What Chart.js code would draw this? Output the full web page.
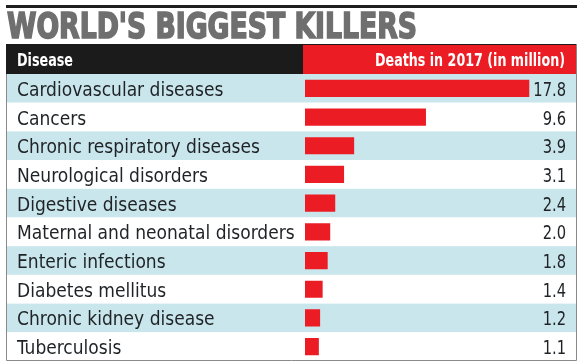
<!DOCTYPE html>
<html>
<head>
<meta charset="utf-8">
<script src="https://cdn.jsdelivr.net/npm/chart.js@4/dist/chart.umd.min.js"></script>
<style>
html,body{margin:0;padding:0;background:#fff;}
#wrap{width:588px;height:362px;}
</style>
</head>
<body>
<div id="wrap"><canvas id="c" width="588" height="362"></canvas></div>
<script>
const title = "WORLD'S BIGGEST KILLERS";
const headerLeft = "Disease";
const headerRight = "Deaths in 2017 (in million)";
const diseases = [
  "Cardiovascular diseases",
  "Cancers",
  "Chronic respiratory diseases",
  "Neurological disorders",
  "Digestive diseases",
  "Maternal and neonatal disorders",
  "Enteric infections",
  "Diabetes mellitus",
  "Chronic kidney disease",
  "Tuberculosis"
];
const deaths = [17.8, 9.6, 3.9, 3.1, 2.4, 2.0, 1.8, 1.4, 1.2, 1.1];
const valueLabels = ["17.8", "9.6", "3.9", "3.1", "2.4", "2.0", "1.8", "1.4", "1.2", "1.1"];

const RED = '#ec1c24';
const BLUE = '#c9e6ec';
const TEXT = '#1f2326';
const LEFT = 6, RIGHT = 577;
const FONT = '"Liberation Sans Narrow", "DejaVu Sans Condensed", sans-serif';

function fitText(ctx, txt, x, y, w) {
  const m = ctx.measureText(txt).width;
  ctx.save();
  ctx.translate(x, y);
  ctx.scale(w / m, 1);
  ctx.fillText(txt, 0, 0);
  ctx.restore();
}

const tablePlugin = {
  id: 'table',
  beforeDatasetsDraw(chart) {
    const ctx = chart.ctx;
    const ys = chart.scales.y;
    ctx.save();
    ctx.fillStyle = '#fff';
    ctx.fillRect(0, 0, chart.width, chart.height);
    // top rule
    ctx.fillStyle = '#1e1e1e';
    ctx.fillRect(LEFT, 5, RIGHT - LEFT, 3);
    // title
    ctx.fillStyle = '#6f6f70';
    ctx.font = 'bold 35px ' + FONT;
    ctx.textBaseline = 'alphabetic';
    ctx.textAlign = 'left';
    ctx.strokeStyle = '#6f6f70';
    ctx.lineWidth = 1.6;
    const tw = ctx.measureText(title).width;
    ctx.save();
    ctx.translate(LEFT + 1, 38);
    ctx.scale(410 / tw, 1);
    ctx.fillText(title, 0, 0);
    ctx.strokeText(title, 0, 0);
    ctx.restore();
    // header
    ctx.fillStyle = '#1b1b1b';
    ctx.fillRect(LEFT, 44, RIGHT - LEFT, 30);
    ctx.fillStyle = RED;
    ctx.fillRect(303, 45, RIGHT - 303, 29);
    ctx.fillStyle = '#fff';
    ctx.font = 'bold 17px ' + FONT;
    fitText(ctx, headerLeft, 17, 66, 56);
    fitText(ctx, headerRight, 375, 66, 190);
    // row backgrounds
    const step = ys.getPixelForValue(1) - ys.getPixelForValue(0);
    for (let i = 0; i < diseases.length; i++) {
      const c = ys.getPixelForValue(i);
      ctx.fillStyle = (i % 2 === 0) ? BLUE : '#ffffff';
      ctx.fillRect(LEFT, c - step / 2, RIGHT - LEFT, step);
    }
    ctx.restore();
  },
  afterDatasetsDraw(chart) {
    const ctx = chart.ctx;
    const ys = chart.scales.y;
    ctx.save();
    ctx.fillStyle = TEXT;
    ctx.font = '19px ' + FONT;
    ctx.textBaseline = 'alphabetic';
    for (let i = 0; i < diseases.length; i++) {
      const c = ys.getPixelForValue(i);
      ctx.textAlign = 'left';
      ctx.fillText(diseases[i], 17, c + 7.5);
      ctx.save();
      ctx.translate(566, c + 7.5);
      ctx.scale(0.86, 1);
      ctx.textAlign = 'right';
      ctx.fillText(valueLabels[i], 0, 0);
      ctx.restore();
    }
    // table border
    ctx.strokeStyle = '#8a8a8a';
    ctx.lineWidth = 1;
    ctx.beginPath();
    ctx.moveTo(LEFT + 0.5, 74);
    ctx.lineTo(LEFT + 0.5, 360.5);
    ctx.lineTo(RIGHT - 0.5, 360.5);
    ctx.lineTo(RIGHT - 0.5, 44);
    ctx.stroke();
    ctx.restore();
  }
};

new Chart(document.getElementById('c'), {
  type: 'bar',
  data: {
    labels: diseases,
    datasets: [{
      data: deaths,
      backgroundColor: RED,
      borderWidth: 0,
      categoryPercentage: 1,
      barPercentage: 0.6
    }]
  },
  options: {
    indexAxis: 'y',
    responsive: false,
    animation: false,
    layout: { padding: { left: 305, right: 18.4, top: 74, bottom: 1 } },
    plugins: { legend: { display: false }, tooltip: { enabled: false }, title: { display: false } },
    scales: {
      x: { display: false, min: 0, max: 21 },
      y: { display: false }
    }
  },
  plugins: [tablePlugin]
});
</script>
</body>
</html>
